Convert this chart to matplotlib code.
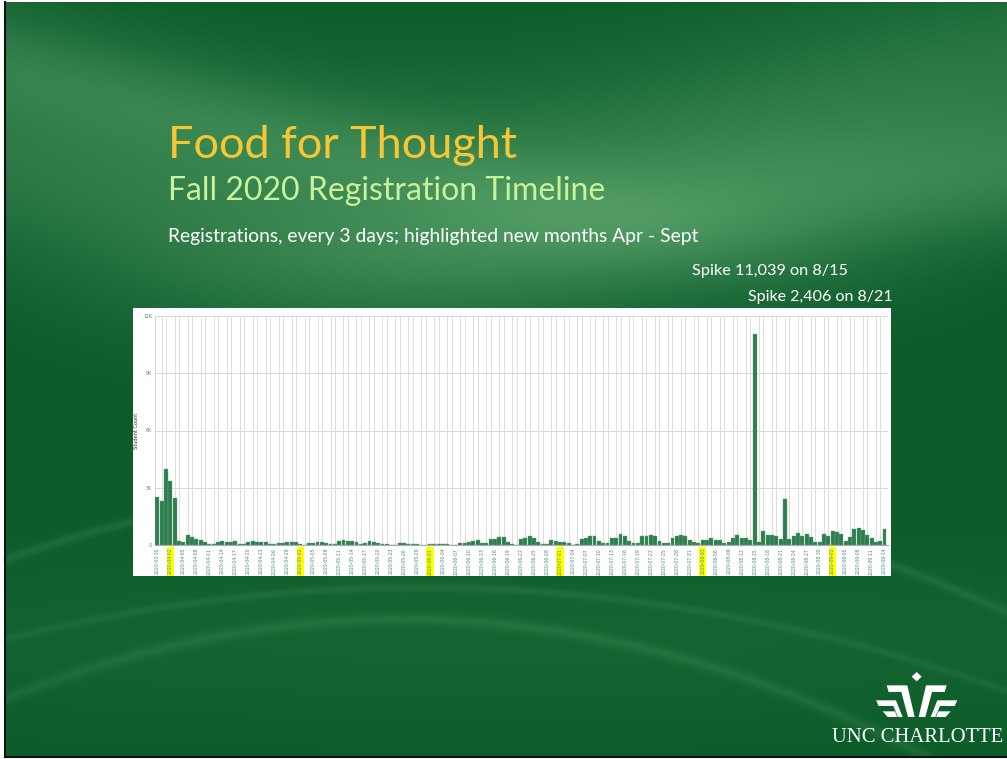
import numpy as np
import pandas as pd
import matplotlib
matplotlib.use('Agg')
import matplotlib.pyplot as plt
from matplotlib.patches import Rectangle, Polygon

W, H = 1007, 759

start_date = '2020-03-30'
counts = [
    2540, 2320, 4000, 3360, 2440, 190, 175, 505, 400, 300,
    245, 160, 55, 55, 175, 190, 175, 140, 190, 55,
    55, 140, 190, 140, 140, 140, 55, 55, 105, 120,
    175, 140, 140, 35, 10, 120, 120, 175, 140, 105,
    70, 60, 190, 260, 210, 210, 140, 70, 90, 190,
    175, 105, 70, 50, 10, 10, 90, 90, 35, 70,
    35, 10, 10,
    50, 50, 70, 70, 60, 10, 10, 90, 90, 175,
    210, 280, 90, 90, 300, 315, 400, 400, 140, 50,
    10, 300, 350, 490, 385, 160, 70, 70, 280, 210,
    160, 160, 90, 20, 70, 315, 385, 490, 470, 190,
    90, 90, 350, 350, 590, 490, 230, 90, 90, 455,
    490, 525, 455, 230, 90, 90, 385, 490, 525, 490,
    260, 140, 105, 280, 280, 350,
    260, 260, 90, 160, 350, 520, 350, 350, 245, 11039,
    175, 715, 520, 520, 450, 315, 2406, 315, 470, 610,
    470, 560, 435, 140, 140, 575, 490, 715, 660, 575,
    190, 435, 835, 905, 765, 505, 365, 160, 210, 855,
]
y_ticks = [0, 3000, 6000, 9000, 12000]
y_tick_labels = ['0', '3K', '6K', '9K', '12K']

title = 'Food for Thought'
subtitle = 'Fall 2020 Registration Timeline'
note = 'Registrations, every 3 days; highlighted new months Apr - Sept'
spike_notes = ['Spike 11,039 on 8/15', 'Spike 2,406 on 8/21']

dates = pd.date_range(start_date, periods=len(counts))

fig = plt.figure(figsize=(W / 100, H / 100), dpi=100)
fig.patch.set_facecolor('white')

# slide background, in pixel coordinates
bg = fig.add_axes([0, 0, 1, 1])
bg.set_xlim(0, W)
bg.set_ylim(H, 0)
bg.axis('off')

yy, xx = np.mgrid[0:H, 0:W].astype(float)
dark = np.array([12, 92, 42]) / 255
light = np.array([100, 172, 115]) / 255
glow = 0.5 * np.exp(-((yy - (140 + 70 * np.sin(xx / 260.0))) / 120.0) ** 2)
glow += 0.3 * np.exp(-((yy - (60 + 0.25 * xx)) / 50.0) ** 2) * (1 - xx / W)
glow += 0.35 * np.exp(-((yy - (300 - 0.12 * xx)) / 60.0) ** 2) * (xx / W)
glow += 0.2 * np.exp(-((yy - (560 - 0.35 * xx + 0.0004 * xx ** 2)) / 5.0) ** 2)
glow += 0.15 * np.exp(-((yy - (640 - 0.25 * xx + 0.0003 * xx ** 2)) / 4.0) ** 2)
glow += 0.18 * np.exp(-((yy - (700 - 0.4 * xx + 0.0005 * xx ** 2)) / 6.0) ** 2)
glow += 0.1 * np.exp(-((yy - 640) / 90.0) ** 2)
glow *= 0.75 + 0.25 * np.sin(np.pi * xx / W)
glow = np.clip(glow, 0, 1)[..., None]
img = dark * (1 - glow) + light * glow
bg.imshow(img, extent=(5, W, 757, 2), aspect='auto', zorder=0)
bg.plot([5, 5], [2, 757], color='#111111', lw=1.5, zorder=1)
bg.plot([5, W], [757, 757], color='#111111', lw=1.5, zorder=1)

bg.add_patch(Rectangle((133, 308), 758, 268, facecolor='white', edgecolor='none', zorder=2))


def fit_width(t, width_px):
    fig.canvas.draw()
    w = t.get_window_extent().width
    t.set_fontsize(t.get_fontsize() * width_px / w)


font = 'Lato'
t1 = bg.text(168, 158, title, color='#f7c634', fontsize=30, family=font, va='baseline', zorder=3)
t2 = bg.text(168, 200, subtitle, color='#c8f29c', fontsize=22, family=font, va='baseline', zorder=3)
t3 = bg.text(168, 242, note, color='white', fontsize=12, family=font, va='baseline', zorder=3)
t4 = bg.text(692, 275, spike_notes[0], color='white', fontsize=10, family=font, va='baseline', zorder=3)
t5 = bg.text(748, 301, spike_notes[1], color='white', fontsize=10, family=font, va='baseline', zorder=3)
fit_width(t1, 349)
fit_width(t2, 436)
fit_width(t3, 528)
fit_width(t4, 156)
fit_width(t5, 145)

# logo in 3x zoom coordinates
logo_shapes = [
    [(290, 0), (305, 14), (290, 28), (275, 14)],
    [(200, 40), (262, 40), (284, 135), (264, 135), (244, 60), (206, 60)],
    [(168, 85), (228, 85), (248, 135), (234, 135), (220, 102), (176, 102)],
    [(188, 118), (225, 118), (232, 135), (203, 135)],
    [(380, 40), (318, 40), (296, 135), (316, 135), (336, 60), (374, 60)],
    [(412, 85), (352, 85), (332, 135), (346, 135), (360, 102), (404, 102)],
    [(392, 118), (355, 118), (348, 135), (377, 135)],
]
for shape in logo_shapes:
    pts = [(820 + px / 3.0, 672 + py / 3.0) for px, py in shape]
    bg.add_patch(Polygon(pts, closed=True, facecolor='white', edgecolor='none', zorder=3))
t6 = bg.text(918, 742, 'UNC CHARLOTTE', color='white', fontsize=14, family='Liberation Serif',
             ha='center', va='baseline', zorder=3)
fit_width(t6, 172)

# bar chart
ax = fig.add_axes([155 / W, 1 - 545 / H, (888 - 155) / W, (545 - 316) / H])
ax.set_facecolor('white')
x = np.arange(len(counts))
ax.bar(x, counts, width=0.9, color='#2e7d4f', edgecolor='#6aab83', linewidth=0.3, zorder=3)

ax.set_xlim(-0.55, len(counts) - 0.2)
ax.set_ylim(0, 12000)
ax.set_xticks(x, minor=True)
ax.grid(which='minor', axis='x', color='#dcdcdc', lw=0.7, zorder=0)
ax.set_yticks(y_ticks)
ax.set_yticklabels(y_tick_labels)
ax.grid(which='major', axis='y', color='#d9d9d9', lw=0.7, zorder=0)

tick_idx = x[::3]
tick_labels = [dates[i].strftime('%Y-%m-%d') for i in tick_idx]
ax.set_xticks(tick_idx)
ax.set_xticklabels(tick_labels, rotation=90)
ax.tick_params(axis='x', which='both', length=0, labelsize=3.3, labelcolor='#4a8a70', pad=2)
ax.tick_params(axis='y', length=0, labelsize=3.4, labelcolor='#4a8a70', pad=2)

prev_month = dates[0].month
for lbl, i in zip(ax.get_xticklabels(), tick_idx):
    if dates[i].month != prev_month:
        lbl.set_bbox(dict(facecolor='#ffff00', edgecolor='none', pad=0.8))
    prev_month = dates[i].month

for side in ['top', 'right']:
    ax.spines[side].set_visible(False)
ax.spines['left'].set_color('#cccccc')
ax.spines['left'].set_linewidth(0.6)
ax.spines['bottom'].set_color('#aaaaaa')
ax.spines['bottom'].set_linewidth(0.8)
ax.set_ylabel('Student Count', fontsize=3.6, color='#333333', labelpad=3)

fig.savefig('out.png', dpi=100)
